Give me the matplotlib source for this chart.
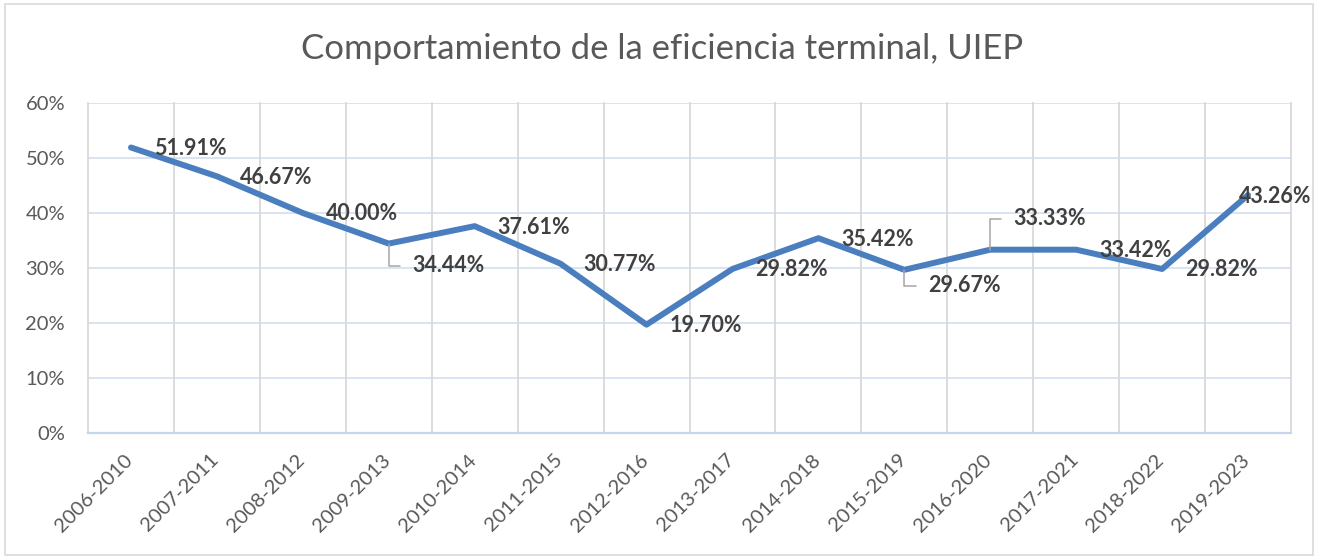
import numpy as np
import matplotlib.pyplot as plt
import matplotlib.transforms as mtransforms
from matplotlib.patches import Rectangle

periods = ["2006-2010", "2007-2011", "2008-2012", "2009-2013", "2010-2014",
           "2011-2015", "2012-2016", "2013-2017", "2014-2018", "2015-2019",
           "2016-2020", "2017-2021", "2018-2022", "2019-2023"]
eficiencia = [51.91, 46.67, 40.00, 34.44, 37.61, 30.77, 19.70,
              29.82, 35.42, 29.67, 33.33, 33.33, 29.82, 43.26]
etiquetas = ["51.91%", "46.67%", "40.00%", "34.44%", "37.61%", "30.77%", "19.70%",
             "29.82%", "35.42%", "29.67%", "33.33%", "33.42%", "29.82%", "43.26%"]
y_ticks = [0, 10, 20, 30, 40, 50, 60]

# label offsets in pixels (dx, dy), default is to the right of the point
moved = {3: (24, -22), 9: (24, -16), 10: (23, 31), 13: (-9, -1)}
leader = {3, 9, 10}

plt.rcParams['font.family'] = ['Lato', 'DejaVu Sans']

fig = plt.figure(figsize=(13.17, 5.58), dpi=100)
ax = fig.add_axes([88 / 1317, 1 - 433 / 558, (1291 - 88) / 1317, (433 - 103) / 558])

x = np.arange(len(periods))

for yv in y_ticks[1:]:
    ax.axhline(yv, color='#d6e0f0', lw=1.3, zorder=1)
for xv in np.arange(-0.5, len(periods), 1.0):
    ax.plot([xv, xv], [0, 60], color='#d9d9d9', lw=1.3, zorder=1, clip_on=False)
ax.axhline(0, color='#c5d5ec', lw=1.6, zorder=2, clip_on=False)

ax.plot(x, eficiencia, color='#4a7ebf', lw=4.3, solid_capstyle='round',
        solid_joinstyle='round', zorder=3, clip_on=False)

for i, (v, t) in enumerate(zip(eficiencia, etiquetas)):
    dx, dy = moved.get(i, (23, -1))
    kw = {}
    if i in leader:
        kw['arrowprops'] = dict(arrowstyle='-', color='#a6a6a6', lw=1.1,
                                connectionstyle='angle,angleA=0,angleB=90,rad=0',
                                relpos=(0, 0.5), shrinkA=7, shrinkB=0)
    ax.annotate(t, (i, v), xytext=(dx, dy), textcoords='offset pixels',
                ha='left', va='center', fontsize=15.5, fontweight='bold',
                color='#404040', zorder=4, annotation_clip=False, **kw)

ax.set_xlim(-0.5, len(periods) - 0.5)
ax.set_ylim(0, 60)
ax.set_yticks(y_ticks)
ax.set_yticklabels([f"{v}%" for v in y_ticks])
ax.set_xticks(x)
ax.set_xticklabels(periods, rotation=45, ha='right', rotation_mode='default')
ax.tick_params(axis='y', length=0, pad=16.5, labelsize=14.5, labelcolor='#595959')
ax.tick_params(axis='x', length=0, pad=13, labelsize=14.5, labelcolor='#595959')
shift = mtransforms.ScaledTranslation(0.05, 0, fig.dpi_scale_trans)
for lab in ax.get_xticklabels():
    lab.set_transform(lab.get_transform() + shift)
for s in ax.spines.values():
    s.set_visible(False)

fig.text(0.503, 1 - 49 / 558, "Comportamiento de la eficiencia terminal, UIEP",
         ha='center', va='center', fontsize=25, color='#595959')

fig.patches.append(Rectangle((5 / 1317, 3 / 558), 1308 / 1317, 551 / 558,
                             transform=fig.transFigure, fill=False,
                             edgecolor='#d9d9d9', lw=1.2))

fig.savefig('out.png', dpi=100)
